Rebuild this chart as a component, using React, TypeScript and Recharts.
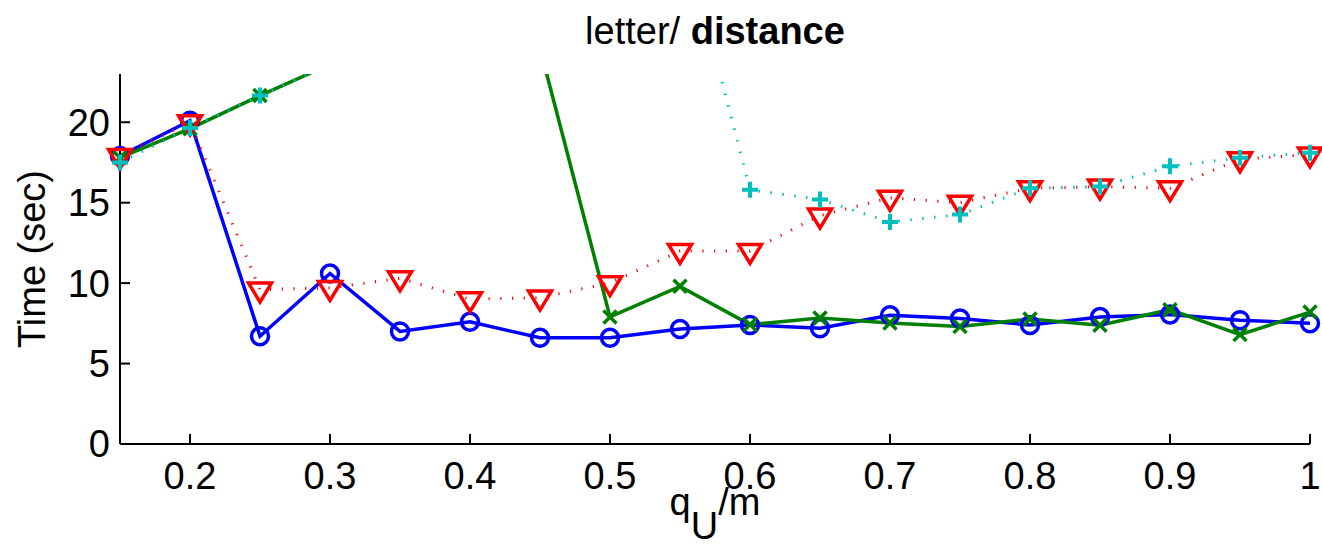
import React from 'react';
import { LineChart, Line, XAxis, YAxis } from 'recharts';

// q_U/m values
const qValues = [0.15, 0.2, 0.25, 0.3, 0.35, 0.4, 0.45, 0.5, 0.55, 0.6, 0.65, 0.7, 0.75, 0.8, 0.85, 0.9, 0.95, 1.0];

// time (sec) per series
const blueTimes = [17.9, 20.1, 6.7, 10.6, 7.0, 7.6, 6.6, 6.6, 7.15, 7.4, 7.2, 8.0, 7.8, 7.4, 7.9, 8.05, 7.7, 7.5];
const greenTimes = [17.8, 19.6, 21.66, 23.6, 26, 27, 24.6, 7.9, 9.8, 7.42, 7.83, 7.52, 7.31, 7.77, 7.38, 8.35, 6.8, 8.2];
const redTimes = [17.9, 20.0, 9.6, 9.7, 10.3, 9.0, 9.1, 10.0, 12.0, 12.0, 14.2, 15.3, 15.0, 15.9, 16.0, 15.9, 17.7, 18.0];
const cyanTimes = [17.5, 19.65, 21.66, 23.6, 26, 28, 30, 31, 32.6, 15.8, 15.2, 13.8, 14.26, 15.9, 16.0, 17.26, 17.8, 18.1];

const xTicks = [0.2, 0.3, 0.4, 0.5, 0.6, 0.7, 0.8, 0.9, 1];
const yTicks = [0, 5, 10, 15, 20];
const Y_MAX = 23;

const FONT = '"Liberation Sans", Arial, Helvetica, sans-serif';

// markers only where they are inside the axes (matlab does not clip markers)
const inRange = (v: number) => (v <= Y_MAX ? v : null);

const data = qValues.map((q, i) => ({
  q,
  blue: blueTimes[i],
  green: greenTimes[i],
  red: redTimes[i],
  cyan: cyanTimes[i],
  blueM: inRange(blueTimes[i]),
  greenM: inRange(greenTimes[i]),
  redM: inRange(redTimes[i]),
  cyanM: inRange(cyanTimes[i]),
}));

const CircleDot = (p: any) => {
  if (p.cy == null || p.cx == null) return <g key={`c-${p.index}`} />;
  return <circle key={`c-${p.index}`} cx={p.cx} cy={p.cy} r={8.5} fill="none" stroke="#0000ff" strokeWidth={3.5} />;
};

const CrossDot = (p: any) => {
  if (p.cy == null || p.cx == null) return <g key={`x-${p.index}`} />;
  const s = 6.5;
  return (
    <path
      key={`x-${p.index}`}
      d={`M${p.cx - s},${p.cy - s}L${p.cx + s},${p.cy + s}M${p.cx - s},${p.cy + s}L${p.cx + s},${p.cy - s}`}
      stroke="#008000"
      strokeWidth={3.5}
      fill="none"
    />
  );
};

const TriDot = (p: any) => {
  if (p.cy == null || p.cx == null) return <g key={`t-${p.index}`} />;
  const { cx, cy } = p;
  return (
    <polygon
      key={`t-${p.index}`}
      points={`${cx - 11.5},${cy - 6.5} ${cx + 11.5},${cy - 6.5} ${cx},${cy + 12.5}`}
      fill="none"
      stroke="#ff0000"
      strokeWidth={3.5}
      strokeLinejoin="miter"
    />
  );
};

const PlusDot = (p: any) => {
  if (p.cy == null || p.cx == null) return <g key={`p-${p.index}`} />;
  const s = 8;
  return (
    <path
      key={`p-${p.index}`}
      d={`M${p.cx - s},${p.cy}L${p.cx + s},${p.cy}M${p.cx},${p.cy - s}L${p.cx},${p.cy + s}`}
      stroke="#00bfbf"
      strokeWidth={4}
      fill="none"
    />
  );
};

const axisLine = { stroke: '#000', strokeWidth: 2 };
const tickLine = { stroke: '#000', strokeWidth: 2 };
const tickStyle = { fill: '#000', fontSize: 38, fontFamily: FONT };

export default function App() {
  return (
    <div style={{ position: 'absolute', left: 0, top: 0, width: 1322, height: 544, background: '#fff' }}>
      <LineChart width={1322} height={544} data={data} margin={{ top: 74, right: 12, bottom: 40, left: 60 }}>
        <XAxis
          xAxisId="b"
          dataKey="q"
          type="number"
          domain={[0.15, 1]}
          ticks={xTicks}
          interval={0}
          height={60}
          axisLine={axisLine}
          tickLine={tickLine}
          tickSize={-10}
          tickMargin={28}
          tick={tickStyle}
        />
        <XAxis
          xAxisId="t"
          orientation="top"
          dataKey="q"
          type="number"
          domain={[0.15, 1]}
          ticks={xTicks}
          interval={0}
          height={0}
          axisLine={axisLine}
          tickLine={tickLine}
          tickSize={-10}
          tick={false}
        />
        <YAxis
          yAxisId="l"
          type="number"
          domain={[0, Y_MAX]}
          ticks={yTicks}
          interval={0}
          allowDataOverflow
          width={60}
          axisLine={axisLine}
          tickLine={tickLine}
          tickSize={-10}
          tickMargin={20}
          tick={tickStyle}
        />
        <YAxis
          yAxisId="r"
          orientation="right"
          type="number"
          domain={[0, Y_MAX]}
          ticks={yTicks}
          interval={0}
          width={0}
          axisLine={axisLine}
          tickLine={tickLine}
          tickSize={-10}
          tick={false}
        />

        <Line xAxisId="b" yAxisId="l" dataKey="blue" stroke="#0000ff" strokeWidth={3.5} dot={false} isAnimationActive={false} />
        <Line xAxisId="t" yAxisId="r" dataKey="blueM" stroke="none" dot={CircleDot} activeDot={false} isAnimationActive={false} />

        <Line xAxisId="b" yAxisId="l" dataKey="green" stroke="#008000" strokeWidth={3.5} dot={false} isAnimationActive={false} />
        <Line xAxisId="t" yAxisId="r" dataKey="greenM" stroke="none" dot={CrossDot} activeDot={false} isAnimationActive={false} />

        <Line xAxisId="b" yAxisId="l" dataKey="red" stroke="#ff0000" strokeWidth={3} strokeDasharray="1.2 10.5" dot={false} isAnimationActive={false} />
        <Line xAxisId="t" yAxisId="r" dataKey="redM" stroke="none" dot={TriDot} activeDot={false} isAnimationActive={false} />

        <Line xAxisId="b" yAxisId="l" dataKey="cyan" stroke="#00bfbf" strokeWidth={3} strokeDasharray="1.5 10.5" dot={false} isAnimationActive={false} />
        <Line xAxisId="t" yAxisId="r" dataKey="cyanM" stroke="none" dot={PlusDot} activeDot={false} isAnimationActive={false} />
      </LineChart>

      <svg width={1322} height={544} style={{ position: 'absolute', left: 0, top: 0, pointerEvents: 'none' }}>
        <text x={715} y={44} textAnchor="middle" fontFamily={FONT} fontSize={38} fill="#000">
          letter/ <tspan fontWeight="bold">distance</tspan>
        </text>
        <text x={715} y={515} textAnchor="middle" fontFamily={FONT} fontSize={38} fill="#000">
          q<tspan dy={24}>U</tspan><tspan dy={-24}>/m</tspan>
        </text>
        <text
          x={45}
          y={259}
          textAnchor="middle"
          fontFamily={FONT}
          fontSize={38}
          fill="#000"
          transform="rotate(-90 45 259)"
        >
          Time (sec)
        </text>
      </svg>
    </div>
  );
}
